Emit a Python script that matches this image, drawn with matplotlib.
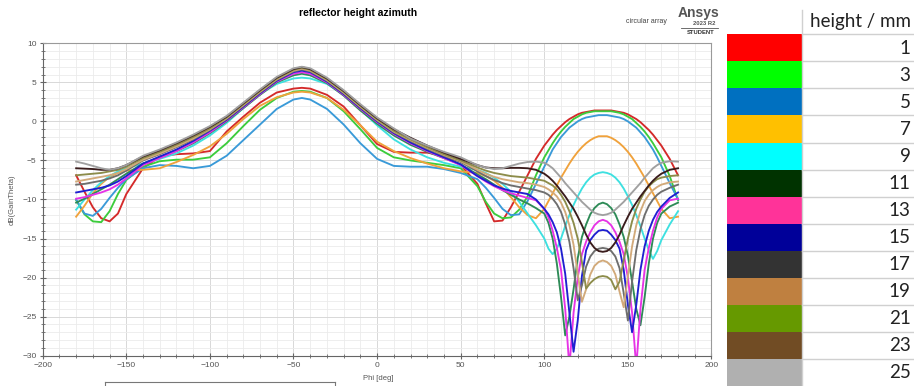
import matplotlib
matplotlib.use('Agg')
import matplotlib.pyplot as plt
from matplotlib.patches import Rectangle
from matplotlib.ticker import MultipleLocator

plt.rcParams['font.family'] = ['Liberation Sans', 'DejaVu Sans']

# azimuth samples (finer around the back lobe where the nulls are)
phi = [-180, -175, -170, -165, -160, -155, -150,
       -140, -130, -120, -110, -100, -90, -80, -70, -60, -50,
       -45,
       -40, -30, -20, -10, 0, 10, 20, 30, 40, 50, 60,
       65, 70, 75, 80, 85, 90, 95, 100,
       102.5, 105, 107.5, 110, 112.5, 115, 117.5, 120, 122.5, 125, 127.5, 130, 132.5, 135,
       137.5, 140, 142.5, 145, 147.5, 150, 152.5, 155, 157.5, 160, 162.5, 165, 167.5, 170,
       175, 180]

heights = [1, 3, 5, 7, 9, 11, 13, 15, 17, 19, 21, 23, 25]

gain_h1 = [-6.9, -9.0, -11.0, -12.4, -12.8, -11.8, -9.3,
           -6.0, -4.5, -4.2, -4.1, -3.8, -1.3, 0.6, 2.4, 3.7, 4.2, 4.3, 4.2, 3.4, 1.9, -0.5, -2.9, -3.9, -4.0, -4.0, -4.4, -5.6,
           -8.0, -10.5, -12.8, -12.7, -11.0, -9.0, -6.9, -4.8, -3.1,
           -2.4, -1.7, -1.1, -0.6, -0.1, 0.3, 0.6, 0.9, 1.1, 1.2, 1.3, 1.4, 1.4, 1.4,
           1.4, 1.4, 1.3, 1.2, 1.1, 0.9, 0.6, 0.3, -0.1, -0.6, -1.1, -1.7, -2.4, -3.1, -4.8, -6.9]
gain_h3 = [-10.1, -11.9, -12.8, -12.9, -11.5, -9.3, -7.5,
           -5.8, -5.1, -4.9, -4.9, -4.6, -2.8, -0.6, 1.5, 3.0, 3.8, 3.9, 3.8, 3.0, 1.3, -1.0, -3.4, -4.6, -5.0, -5.3, -5.6, -6.0,
           -8.3, -10.3, -11.8, -12.4, -12.3, -11.3, -9.6, -6.9, -4.6,
           -3.7, -2.8, -2.0, -1.3, -0.7, -0.2, 0.3, 0.6, 0.9, 1.1, 1.2, 1.3, 1.3, 1.3,
           1.3, 1.3, 1.2, 1.1, 0.9, 0.6, 0.3, -0.2, -0.7, -1.3, -2.0, -2.8, -3.7, -4.6, -7.0, -10.1]
gain_h5 = [-10.0, -11.8, -12.1, -11.2, -9.8, -8.5, -7.4,
           -6.0, -5.6, -5.7, -6.0, -5.7, -4.4, -2.4, -0.4, 1.6, 2.8, 3.0, 2.8, 1.6, -0.4, -2.8, -4.8, -5.7, -5.8, -5.8, -6.1, -6.6,
           -7.4, -8.5, -9.8, -11.2, -12.0, -11.9, -10.2, -8.0, -5.8,
           -4.7, -3.6, -2.8, -2.0, -1.4, -0.8, -0.4, 0.0, 0.3, 0.5, 0.6, 0.7, 0.8, 0.8,
           0.8, 0.7, 0.6, 0.5, 0.3, 0.0, -0.4, -0.8, -1.4, -2.0, -2.8, -3.6, -4.6, -5.7, -7.9, -10.0]
gain_h7 = [-12.2, -10.8, -9.2, -8.0, -7.1, -6.6, -6.3,
           -6.2, -6.0, -5.2, -4.3, -3.2, -1.6, 0.3, 2.0, 3.1, 3.7, 3.8, 3.7, 3.0, 1.5, -0.5, -2.6, -3.8, -4.7, -5.4, -6.0, -6.4,
           -6.6, -7.0, -7.6, -8.5, -9.7, -11.0, -12.0, -12.4, -11.2,
           -10.2, -9.2, -8.2, -7.2, -6.3, -5.4, -4.6, -3.9, -3.3, -2.8, -2.4, -2.1, -1.9, -1.9,
           -1.9, -2.1, -2.4, -2.8, -3.3, -3.9, -4.6, -5.4, -6.3, -7.2, -8.2, -9.2, -10.2, -11.2, -12.4, -12.2]
gain_h9 = [-11.3, -10.0, -8.8, -7.8, -7.0, -6.4, -6.0,
           -5.4, -4.8, -4.1, -3.1, -1.8, -0.2, 1.7, 3.5, 4.8, 5.5, 5.6, 5.5, 4.8, 3.4, 1.5, -0.5, -2.3, -3.6, -4.6, -5.3, -5.8,
           -6.2, -6.6, -7.2, -8.0, -9.0, -10.3, -11.8, -13.3, -15.0,
           -16.3, -17.0, -16.3, -15.0, -13.4, -12.0, -10.7, -9.6, -8.6, -7.8, -7.2, -6.8, -6.6, -6.5,
           -6.6, -6.8, -7.2, -7.8, -8.6, -9.6, -10.7, -12.0, -13.4, -15.0, -16.5, -17.6, -16.6, -15.2, -13.2, -11.5]
gain_h11 = [-10.4, -9.9, -9.3, -8.7, -8.1, -7.4, -6.7,
            -5.4, -4.6, -3.8, -2.8, -1.5, 0.0, 1.7, 3.4, 5.0, 5.9, 6.1, 5.9, 4.9, 3.3, 1.4, -0.3, -1.8, -3.0, -3.9, -4.7, -5.5,
            -6.8, -7.4, -8.1, -8.8, -9.4, -10.0, -10.5, -11.1, -11.8,
            -13.0, -15.0, -18.2, -22.5, -27.4, -25.0, -21.5, -17.5, -14.8, -13.2, -11.9, -11.1, -10.6, -10.4,
            -10.6, -11.1, -11.9, -13.2, -14.8, -17.2, -20.5, -24.0, -26.1, -22.5, -18.2, -15.0, -13.0, -11.8, -10.9, -10.4]
gain_h13 = [-9.9, -9.7, -9.4, -9.1, -8.7, -8.1, -7.3,
            -5.6, -4.7, -3.8, -2.7, -1.4, 0.1, 1.8, 3.5, 5.1, 6.1, 6.3, 6.1, 5.0, 3.4, 1.6, -0.1, -1.6, -2.8, -3.8, -4.7, -5.6,
            -7.0, -7.7, -8.3, -8.8, -9.2, -9.5, -9.8, -10.1, -11.2,
            -12.3, -14.0, -16.2, -19.0, -24.0, -31.5, -24.5, -20.0, -17.0, -15.4, -14.2, -13.3, -12.8, -12.6,
            -12.8, -13.3, -14.2, -15.4, -17.0, -20.0, -24.5, -31.5, -24.0, -19.0, -16.2, -14.0, -12.3, -11.2, -10.1, -9.9]
gain_h15 = [-9.1, -8.9, -8.7, -8.5, -8.2, -7.7, -7.0,
            -5.4, -4.5, -3.6, -2.5, -1.2, 0.2, 1.9, 3.6, 5.2, 6.3, 6.5, 6.3, 5.1, 3.5, 1.7, 0.0, -1.5, -2.7, -3.7, -4.6, -5.5,
            -7.0, -7.6, -8.2, -8.6, -8.9, -9.1, -9.3, -10.0, -11.2,
            -11.9, -12.9, -14.2, -16.3, -19.5, -24.5, -29.5, -25.5, -19.8, -16.5, -15.2, -14.5, -14.0, -13.9,
            -14.0, -14.5, -15.2, -16.3, -19.0, -23.5, -27.0, -23.5, -19.0, -16.0, -14.0, -12.6, -11.6, -10.9, -9.8, -9.1]
gain_h17 = [-8.1, -8.0, -7.8, -7.6, -7.3, -6.9, -6.3,
            -5.0, -4.2, -3.3, -2.3, -1.1, 0.3, 2.0, 3.7, 5.3, 6.4, 6.65, 6.4, 5.2, 3.6, 1.8, 0.1, -1.4, -2.5, -3.5, -4.4, -5.2,
            -6.4, -7.0, -7.5, -7.9, -8.2, -8.4, -8.6, -8.8, -9.1,
            -9.4, -9.9, -10.6, -11.6, -13.2, -15.4, -18.8, -22.9, -21.0, -18.6, -17.3, -16.6, -16.3, -16.2,
            -16.3, -16.6, -17.3, -18.8, -22.0, -25.5, -20.5, -16.5, -13.8, -12.0, -10.8, -10.0, -9.4, -9.0, -8.5, -8.1]
gain_h19 = [-7.7, -7.5, -7.3, -7.1, -6.9, -6.6, -6.1,
            -4.9, -4.1, -3.2, -2.2, -1.0, 0.4, 2.1, 3.8, 5.4, 6.5, 6.75, 6.5, 5.3, 3.7, 1.9, 0.2, -1.3, -2.4, -3.4, -4.3, -5.1,
            -6.2, -6.7, -7.1, -7.4, -7.6, -7.8, -7.9, -8.1, -8.4,
            -8.7, -9.1, -9.6, -10.4, -11.6, -13.3, -15.8, -19.5, -23.1, -21.5, -19.6, -18.5, -18.0, -17.8,
            -18.0, -18.5, -19.6, -21.8, -23.8, -19.8, -16.0, -13.3, -11.5, -10.2, -9.4, -8.8, -8.4, -8.1, -7.8, -7.7]
gain_h21 = [-6.9, -6.8, -6.7, -6.6, -6.4, -6.2, -5.8,
            -4.7, -3.9, -3.0, -2.0, -0.9, 0.5, 2.2, 3.9, 5.5, 6.6, 6.85, 6.6, 5.4, 3.8, 2.0, 0.3, -1.2, -2.3, -3.3, -4.2, -5.0,
            -5.9, -6.3, -6.6, -6.8, -7.0, -7.1, -7.2, -7.4, -7.6,
            -7.9, -8.2, -8.7, -9.4, -10.3, -11.5, -13.0, -15.0, -18.0, -21.4, -20.7, -20.2, -19.9, -19.8,
            -19.9, -20.3, -21.5, -20.5, -17.8, -15.0, -12.8, -11.2, -10.0, -9.0, -8.3, -7.8, -7.4, -7.2, -7.0, -6.9]
gain_h23 = [-6.0, -6.05, -6.1, -6.2, -6.2, -6.0, -5.6,
            -4.5, -3.7, -2.8, -1.8, -0.7, 0.6, 2.3, 4.0, 5.6, 6.7, 6.95, 6.7, 5.5, 3.9, 2.1, 0.4, -1.0, -2.1, -3.1, -4.0, -4.8,
            -5.6, -5.9, -6.0, -6.0, -5.95, -5.95, -6.0, -6.2, -6.7,
            -7.1, -7.6, -8.2, -8.9, -9.6, -10.4, -11.2, -12.2, -13.3, -14.5, -15.5, -16.2, -16.6, -16.7,
            -16.6, -16.2, -15.5, -14.5, -13.3, -12.2, -11.2, -10.4, -9.6, -8.9, -8.2, -7.6, -7.1, -6.7, -6.2, -6.0]
gain_h25 = [-5.15, -5.4, -5.7, -6.0, -6.2, -6.0, -5.6,
            -4.4, -3.6, -2.7, -1.7, -0.6, 0.7, 2.4, 4.1, 5.7, 6.8, 7.0, 6.8, 5.6, 4.0, 2.2, 0.5, -0.9, -2.2, -3.1, -3.9, -4.6,
            -5.6, -5.9, -6.1, -6.0, -5.7, -5.4, -5.2, -5.15, -5.3,
            -5.6, -6.0, -6.6, -7.2, -7.9, -8.5, -9.1, -9.7, -10.3, -10.8, -11.3, -11.7, -11.9, -12.0,
            -11.9, -11.7, -11.3, -10.8, -10.3, -9.7, -9.1, -8.5, -7.9, -7.2, -6.6, -6.0, -5.6, -5.3, -5.1, -5.15]

gains = [gain_h1, gain_h3, gain_h5, gain_h7, gain_h9, gain_h11, gain_h13,
         gain_h15, gain_h17, gain_h19, gain_h21, gain_h23, gain_h25]

# trace colours in the plot and colours in the legend table
line_colors = ['#d42a2a', '#3ccc3c', '#3a9ad8', '#f0a23c', '#3ee0e0', '#2e8b57', '#e633e6',
               '#1f1fd0', '#6e6e6e', '#d2aa7a', '#8c8c4a', '#3a1c1c', '#a0a0a0']
table_colors = ['#ff0000', '#00ff00', '#0070c0', '#ffc000', '#00ffff', '#003300', '#ff3399',
                '#000099', '#333333', '#bf8040', '#669900', '#714c24', '#b0b0b0']

W, H = 914, 386
fig = plt.figure(figsize=(W / 100, H / 100), dpi=100)

x0, x1, y0, y1 = 42.7, 711.5, 43.3, 355.7
ax = fig.add_axes([x0 / W, 1 - y1 / H, (x1 - x0) / W, (y1 - y0) / H])
for g, c in zip(gains, line_colors):
    ax.plot(phi, g, color=c, lw=1.35, solid_joinstyle='round')

ax.set_xlim(-200, 200)
ax.set_ylim(-30, 10)
ax.xaxis.set_major_locator(MultipleLocator(50))
ax.xaxis.set_minor_locator(MultipleLocator(10))
ax.yaxis.set_major_locator(MultipleLocator(5))
ax.yaxis.set_minor_locator(MultipleLocator(1))
ax.grid(which='major', color='#d8d8d8', lw=0.7)
ax.grid(which='minor', color='#ebebeb', lw=0.6)
ax.set_axisbelow(True)
ax.tick_params(which='both', direction='inout', labelsize=6, labelcolor='#555555', color='#666666')
ax.tick_params(which='major', length=5, width=0.8, pad=2)
ax.tick_params(which='minor', length=3, width=0.6)
for side in ['left', 'bottom']:
    ax.spines[side].set_color('#666666')
for side in ['top', 'right']:
    ax.spines[side].set_color('#9a9a9a')

fig.text(358 / W, 1 - 13 / H, 'reflector height azimuth', ha='center', va='center',
         fontsize=7.5, fontweight='bold')
fig.text(378 / W, 1 - 378 / H, 'Phi [deg]', ha='center', va='center', fontsize=5.5, color='#555555')
fig.text(12 / W, 1 - 199.5 / H, 'dB(GainTheta)', ha='center', va='center', rotation=90,
         fontsize=5.5, color='#555555')

# overlay in pixel coordinates for the logo block and the legend table
ov = fig.add_axes([0, 0, 1, 1])
ov.set_xlim(0, W)
ov.set_ylim(H, 0)
ov.axis('off')
ov.patch.set_alpha(0)

ov.text(646, 21.5, 'circular array', ha='center', va='center', fontsize=5, color='#444444')
ov.text(699, 13, 'Ansys', ha='center', va='center', fontsize=10, fontweight='bold', color='#555555')
ov.text(704, 23.5, '2023 R2', ha='center', va='center', fontsize=4.2, fontweight='bold', color='#555555')
ov.plot([681, 718], [27.7, 27.7], color='#555555', lw=0.6)
ov.text(701, 33, 'STUDENT', ha='center', va='center', fontsize=4.2, fontweight='bold', color='#333333')

# legend table
tab_top, row_h = 34.3, 27.05
cx0, cx1 = 727.3, 802.3
ov.text(910.5, 21, 'height / mm', ha='right', va='center', fontsize=13.5, family=['Lato'], color='#222222')
ov.plot([cx1, cx1], [10, H], color='#d0d0d0', lw=1)
for i, (h, c) in enumerate(zip(heights, table_colors)):
    top = tab_top + i * row_h
    ov.add_patch(Rectangle((cx0, top), cx1 - cx0, row_h, facecolor=c, edgecolor='none'))
    ov.plot([cx1, W], [top, top], color='#d0d0d0', lw=1)
    ov.text(910.5, top + row_h / 2 + 0.5, str(h), ha='right', va='center', fontsize=13.5,
            family=['Lato'], color='#222222')

# top edge of the trace legend box below the plot
ov.plot([105, 335], [381.5, 381.5], color='#777777', lw=0.8)
ov.plot([105, 105], [381.5, H], color='#777777', lw=0.8)
ov.plot([335, 335], [381.5, H], color='#777777', lw=0.8)

fig.savefig('out.png', dpi=100)
